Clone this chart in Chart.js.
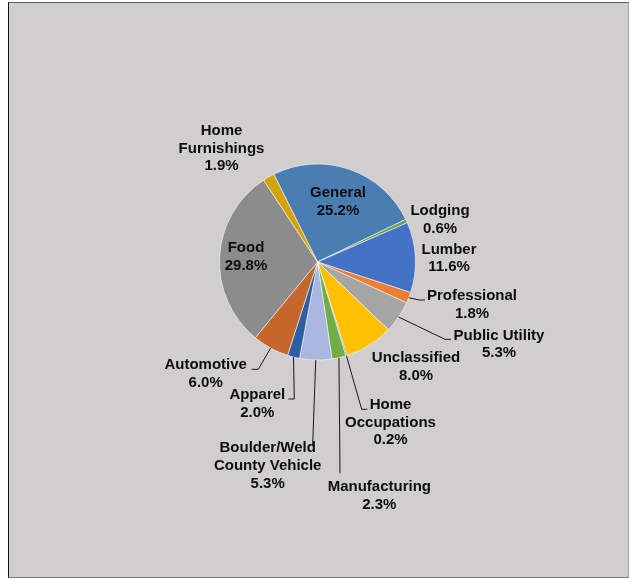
<!DOCTYPE html>
<html>
<head>
<meta charset="utf-8">
<script src="https://cdn.jsdelivr.net/npm/chart.js@4"></script>
<style>
  html, body { margin: 0; padding: 0; background: #ffffff; }
  .frame {
    position: absolute; left: 8px; top: 2px; width: 621px; height: 576px;
    box-sizing: border-box; background: #d0cece;
    border-top: 1px solid #5e5e5e; border-left: 1px solid #111111;
    border-right: 1px solid #a0a0a0; border-bottom: 1px solid #7a7a7a;
  }
  #licenseChart { position: absolute; left: 0; top: 0; }
</style>
</head>
<body>
<div class="frame"></div>
<canvas id="licenseChart" width="629" height="581"></canvas>
<script>
  // Share of business licenses by category (percent)
  var categories = [
    'General', 'Lodging', 'Lumber', 'Professional', 'Public Utility',
    'Unclassified', 'Home Occupations', 'Manufacturing', 'Boulder/Weld County Vehicle',
    'Apparel', 'Automotive', 'Food', 'Home Furnishings'
  ];
  var shares = [25.2, 0.6, 11.6, 1.8, 5.3, 8.0, 0.2, 2.3, 5.3, 2.0, 6.0, 29.8, 1.9];
  var labelLines = [
    ['General'], ['Lodging'], ['Lumber'], ['Professional'], ['Public Utility'],
    ['Unclassified'], ['Home', 'Occupations'], ['Manufacturing'], ['Boulder/Weld', 'County Vehicle'],
    ['Apparel'], ['Automotive'], ['Food'], ['Home', 'Furnishings']
  ];

  var sliceColors = [
    '#4a7eb2', '#6aa343', '#4472c4', '#ed7d31', '#a5a5a5',
    '#ffc000', '#5b7fb8', '#70ad47', '#a9b6de',
    '#2f5ea9', '#c5672a', '#8c8c8c', '#d4a20a'
  ];

  // label block centre and optional leader (elbow, end), relative to the pie centre
  var labelLayout = [
    { at: [20.5, -60] },
    { at: [122.5, -42] },
    { at: [131.5, -3.7] },
    { at: [154.5, 43], leader: [[101.8, 38], [107.5, 38]] },
    { at: [181.5, 82.5], leader: [[127.5, 77.3], [133.5, 77.3]] },
    { at: [98.5, 105] },
    { at: [73, 160.5], leader: [[44.2, 147.3], [49.8, 147.3]] },
    { at: [61.8, 234], leader: [[22.5, 211.3], [22.5, 211.3]] },
    { at: [-49.8, 204], leader: [[-4.8, 183], [-4.8, 183]] },
    { at: [-60.2, 141.7], leader: [[-23.2, 137], [-29.2, 137]] },
    { at: [-111.8, 111.7], leader: [[-59.2, 107.3], [-65.8, 107.3]] },
    { at: [-71.5, -5] },
    { at: [-96, -113.5] }
  ];

  var LINE_H = 17.7;

  var pieLabels = {
    id: 'pieLabels',
    afterDraw: function (chart) {
      var ctx = chart.ctx;
      var meta = chart.getDatasetMeta(0);
      ctx.save();
      ctx.font = 'bold 15px "Liberation Sans", Arial, sans-serif';
      ctx.fillStyle = '#0d0d0d';
      ctx.strokeStyle = '#1a1a1a';
      ctx.lineWidth = 1;
      ctx.textAlign = 'center';
      ctx.textBaseline = 'middle';

      meta.data.forEach(function (arc, i) {
        var layout = labelLayout[i];
        var cx = arc.x, cy = arc.y;

        if (layout.leader) {
          var mid = (arc.startAngle + arc.endAngle) / 2;
          var r = arc.outerRadius;
          ctx.beginPath();
          ctx.moveTo(cx + r * Math.cos(mid), cy + r * Math.sin(mid));
          ctx.lineTo(cx + layout.leader[0][0], cy + layout.leader[0][1]);
          ctx.lineTo(cx + layout.leader[1][0], cy + layout.leader[1][1]);
          ctx.stroke();
        }

        var lines = labelLines[i].concat([shares[i].toFixed(1) + '%']);
        var top = cy + layout.at[1] - (lines.length - 1) * LINE_H / 2;
        lines.forEach(function (text, k) {
          ctx.fillText(text, cx + layout.at[0], top + k * LINE_H);
        });
      });
      ctx.restore();
    }
  };

  new Chart(document.getElementById('licenseChart'), {
    type: 'pie',
    data: {
      labels: categories,
      datasets: [{
        data: shares,
        backgroundColor: sliceColors,
        borderColor: 'rgba(255,255,255,0.55)',
        borderWidth: 1
      }]
    },
    options: {
      responsive: false,
      animation: false,
      rotation: -26.5,
      layout: { padding: { left: 219, right: 213, top: 163.5, bottom: 220.5 } },
      plugins: { legend: { display: false }, tooltip: { enabled: false } }
    },
    plugins: [pieLabels]
  });
</script>
</body>
</html>
